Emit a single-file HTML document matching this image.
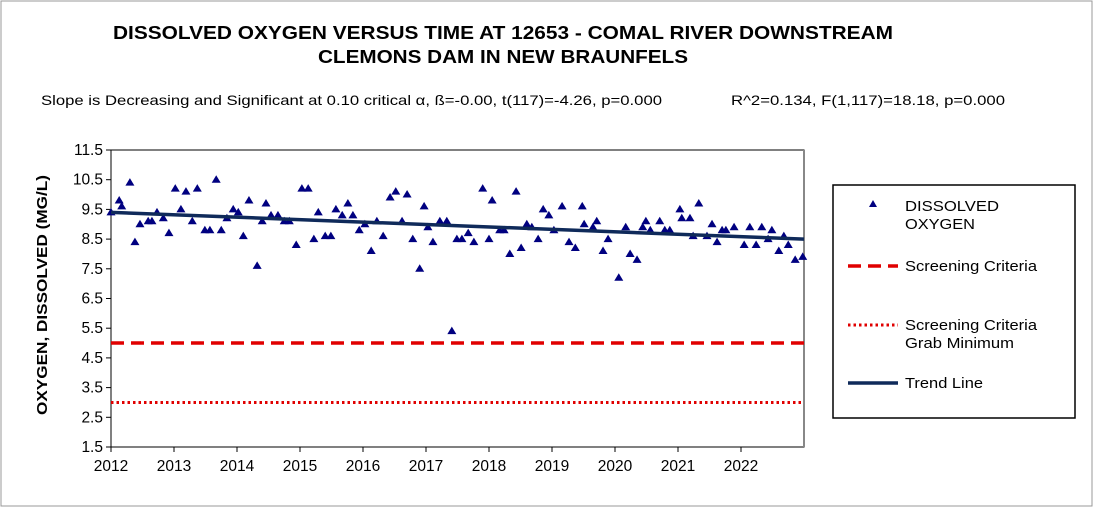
<!DOCTYPE html>
<html><head><meta charset="utf-8"><style>
body{margin:0;background:#fff;font-family:"Liberation Sans",sans-serif;}
svg{display:block}
</style></head><body>
<svg id="c" width="1094" height="525">
<rect x="1" y="1" width="1091" height="505" fill="#fff" stroke="#999"/>
<text x="113" y="39" font-size="18" font-weight="bold" textLength="780" lengthAdjust="spacingAndGlyphs">DISSOLVED OXYGEN VERSUS TIME AT 12653 - COMAL RIVER DOWNSTREAM</text>
<text x="318" y="63" font-size="18" font-weight="bold" textLength="370" lengthAdjust="spacingAndGlyphs">CLEMONS DAM IN NEW BRAUNFELS</text>
<text x="41" y="105" font-size="14" textLength="621" lengthAdjust="spacingAndGlyphs">Slope is Decreasing and Significant at 0.10 critical α, ß=-0.00, t(117)=-4.26, p=0.000</text>
<text x="731" y="105" font-size="14" textLength="274" lengthAdjust="spacingAndGlyphs">R^2=0.134,  F(1,117)=18.18, p=0.000</text>
<text transform="translate(47,415) rotate(-90)" font-size="14.5" font-weight="bold" textLength="240" lengthAdjust="spacingAndGlyphs">OXYGEN, DISSOLVED (MG/L)</text>
<g id="plot"></g>
<g>
<rect x="833" y="185" width="242" height="233" fill="#fff" stroke="#000" stroke-width="1.5"/>
<polygon points="873,200 877,207 869,207" fill="#000080"/>
<text x="905" y="211" font-size="15" textLength="94" lengthAdjust="spacingAndGlyphs">DISSOLVED</text>
<text x="905" y="229" font-size="15" textLength="70" lengthAdjust="spacingAndGlyphs">OXYGEN</text>
<line x1="848" y1="266" x2="898" y2="266" stroke="#e00000" stroke-width="3.5" stroke-dasharray="13,7"/>
<text x="905" y="271" font-size="15" textLength="132" lengthAdjust="spacingAndGlyphs">Screening Criteria</text>
<line x1="848" y1="325" x2="898" y2="325" stroke="#e00000" stroke-width="3" stroke-dasharray="2.5,3"/>
<text x="905" y="330" font-size="15" textLength="132" lengthAdjust="spacingAndGlyphs">Screening Criteria</text>
<text x="905" y="348" font-size="15" textLength="109" lengthAdjust="spacingAndGlyphs">Grab Minimum</text>
<line x1="848" y1="383" x2="898" y2="383" stroke="#0f2a5a" stroke-width="3.5"/>
<text x="905" y="388" font-size="15" textLength="78" lengthAdjust="spacingAndGlyphs">Trend Line</text>
</g>
</svg>
<script>
const dates=[2012.00,2012.13,2012.17,2012.30,2012.38,2012.46,2012.59,2012.65,2012.73,2012.83,2012.92,2013.02,2013.11,2013.19,2013.29,2013.37,2013.49,2013.57,2013.67,2013.75,2013.84,2013.94,2014.02,2014.10,2014.19,2014.32,2014.40,2014.46,2014.54,2014.65,2014.75,2014.83,2014.94,2015.03,2015.13,2015.22,2015.29,2015.40,2015.49,2015.57,2015.67,2015.76,2015.84,2015.94,2016.03,2016.13,2016.22,2016.32,2016.43,2016.52,2016.62,2016.70,2016.79,2016.90,2016.97,2017.03,2017.11,2017.22,2017.33,2017.41,2017.49,2017.57,2017.67,2017.76,2017.90,2018.00,2018.05,2018.17,2018.24,2018.33,2018.43,2018.51,2018.60,2018.68,2018.78,2018.86,2018.95,2019.03,2019.16,2019.27,2019.37,2019.48,2019.51,2019.65,2019.71,2019.81,2019.89,2020.06,2020.17,2020.24,2020.35,2020.44,2020.49,2020.56,2020.71,2020.79,2020.87,2021.03,2021.06,2021.19,2021.24,2021.33,2021.46,2021.54,2021.62,2021.70,2021.76,2021.89,2022.05,2022.14,2022.24,2022.33,2022.43,2022.49,2022.60,2022.68,2022.75,2022.86,2022.98];
const oxygen=[9.4,9.8,9.6,10.4,8.4,9.0,9.1,9.1,9.4,9.2,8.7,10.2,9.5,10.1,9.1,10.2,8.8,8.8,10.5,8.8,9.2,9.5,9.4,8.6,9.8,7.6,9.1,9.7,9.3,9.3,9.1,9.1,8.3,10.2,10.2,8.5,9.4,8.6,8.6,9.5,9.3,9.7,9.3,8.8,9.0,8.1,9.1,8.6,9.9,10.1,9.1,10.0,8.5,7.5,9.6,8.9,8.4,9.1,9.1,5.4,8.5,8.5,8.7,8.4,10.2,8.5,9.8,8.8,8.8,8.0,10.1,8.2,9.0,8.9,8.5,9.5,9.3,8.8,9.6,8.4,8.2,9.6,9.0,8.9,9.1,8.1,8.5,7.2,8.9,8.0,7.8,8.9,9.1,8.8,9.1,8.8,8.8,9.5,9.2,9.2,8.6,9.7,8.6,9.0,8.4,8.8,8.8,8.9,8.3,8.9,8.3,8.9,8.5,8.8,8.1,8.6,8.3,7.8,7.9];
const trendX=[2012.0,2023.0];
const trendY=[9.4,8.5];
const screening=[5.0];
const grabMin=[3.0];
const yTicks=[1.5,2.5,3.5,4.5,5.5,6.5,7.5,8.5,9.5,10.5,11.5];
const xTicks=[2012,2013,2014,2015,2016,2017,2018,2019,2020,2021,2022];
const X0=111,X1=804,Y0=447,Y1=150;
const xs=v=>X0+(v-2012)/11*(X1-X0);
const ys=v=>Y0-(v-1.5)/10*(Y0-Y1);
const NS="http://www.w3.org/2000/svg";
const g=document.getElementById('plot');
function mk(t,a){const e=document.createElementNS(NS,t);for(const k in a)e.setAttribute(k,a[k]);g.appendChild(e);return e;}
let e=mk('rect',{x:X0,y:Y1,width:X1-X0,height:Y0-Y1,fill:'#fff',stroke:'#000','stroke-width':1});


e=mk('line',{x1:X1,y1:Y1,x2:X1,y2:Y0,stroke:'#888','stroke-width':2});


yTicks.forEach(v=>{
 const y=ys(v);
 let t=mk('line',{x1:X0-5,y1:y,x2:X0,y2:y,stroke:'#000'});
 
 
 let l=mk('text',{x:X0-8,y:y+5,'text-anchor':'end','font-size':15.5});
 l.textContent=v.toFixed(1);
 
 
});
xTicks.forEach(v=>{
 const x=xs(v);
 let t=mk('line',{x1:x,y1:Y0,x2:x,y2:Y0+5,stroke:'#000'});
 
 
 let l=mk('text',{x:x,y:Y0+24,'text-anchor':'middle','font-size':15.5});
 l.textContent=v;
 
 
});
e=mk('line',{x1:X0,y1:ys(screening[0]),x2:X1,y2:ys(screening[0]),stroke:'#e00000','stroke-width':3.5,'stroke-dasharray':'13,7'});


e=mk('line',{x1:X0,y1:ys(grabMin[0]),x2:X1,y2:ys(grabMin[0]),stroke:'#e00000','stroke-width':3,'stroke-dasharray':'2.5,3'});


dates.forEach((d,i)=>{
 const x=xs(d),y=ys(oxygen[i]);
 let p=mk('polygon',{points:`${x},${y-4.5} ${x+4.5},${y+3} ${x-4.5},${y+3}`,fill:'#000080'});
 
 
});
e=mk('line',{x1:xs(trendX[0]),y1:ys(trendY[0]),x2:xs(trendX[1]),y2:ys(trendY[1]),stroke:'#0f2a5a','stroke-width':3.5});


</script>
</body></html>
